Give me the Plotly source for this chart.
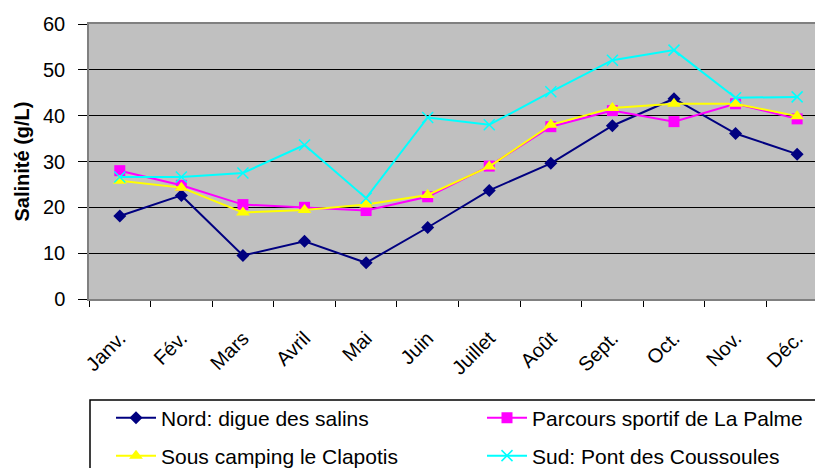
import plotly.graph_objects as go

mois = ["Janv.", "Fév.", "Mars", "Avril", "Mai", "Juin", "Juillet", "Août", "Sept.", "Oct.", "Nov.", "Déc."]
nord = [18.1, 22.6, 9.5, 12.6, 7.9, 15.6, 23.7, 29.6, 37.8, 43.7, 36.1, 31.6]
parcours = [28.0, 24.8, 20.6, 20.0, 19.3, 22.3, 29.0, 37.6, 41.1, 38.7, 42.6, 39.3]
camping = [25.8, 24.3, 18.9, 19.4, 20.6, 22.7, 28.9, 38.0, 41.7, 42.6, 42.6, 39.9]
sud = [26.6, 26.6, 27.5, 33.6, 22.0, 39.6, 38.0, 45.2, 52.1, 54.3, 43.9, 44.1]
noms = ["Nord: digue des salins", "Parcours sportif de La Palme",
        "Sous camping le Clapotis", "Sud: Pont des Coussoules"]

FONT = "Liberation Sans, Arial, sans-serif"
W = 742.0   # plot width in px
H = 275.0   # plot height in px

fig = go.Figure()
fig.add_trace(go.Scatter(x=mois, y=nord, name=noms[0], mode="lines+markers",
                         line=dict(color="#000080", width=2),
                         marker=dict(symbol="diamond", size=10, color="#000080"),
                         legend="legend"))
fig.add_trace(go.Scatter(x=mois, y=parcours, name=noms[1], mode="lines+markers",
                         line=dict(color="#FF00FF", width=2),
                         marker=dict(symbol="square", size=11, color="#FF00FF"),
                         legend="legend2"))
fig.add_trace(go.Scatter(x=mois, y=camping, name=noms[2], mode="lines+markers",
                         line=dict(color="#FFFF00", width=2),
                         marker=dict(symbol="triangle-up", size=12, color="#FFFF00"),
                         legend="legend3"))
fig.add_trace(go.Scatter(x=mois, y=sud, name=noms[3], mode="lines+markers",
                         line=dict(color="#00FFFF", width=2),
                         marker=dict(symbol="x-thin", size=11, line=dict(color="#00FFFF", width=1.5)),
                         legend="legend4"))

def leg(xpx, ypx):
    return dict(orientation="h", xanchor="left", yanchor="middle",
                x=(xpx - 89) / W, y=(299 - ypx) / H,
                font=dict(family=FONT, size=21, color="black"),
                bgcolor="rgba(0,0,0,0)", borderwidth=0, itemwidth=40)

fig.update_layout(
    width=823, height=468,
    margin=dict(l=81, r=0, t=16, b=177, autoexpand=False),
    paper_bgcolor="white", plot_bgcolor="#C0C0C0",
    showlegend=True,
    legend=leg(111, 418),
    legend2=leg(482, 418),
    legend3=leg(111, 456),
    legend4=leg(482, 456),
    xaxis=dict(range=[-0.5, 11.55], tickangle=-45, tickson="boundaries",
               ticks="outside", ticklen=6, tickcolor="black",
               showline=True, linecolor="#808080", linewidth=1.5, mirror=True,
               showgrid=False, ticklabelstandoff=18,
               tickfont=dict(family=FONT, size=20, color="black")),
    yaxis=dict(range=[0, 60], dtick=10, ticks="outside", ticklen=9, tickcolor="black",
               showline=True, linecolor="#808080", linewidth=1.5, mirror=True,
               gridcolor="black", gridwidth=1, zeroline=False,
               ticklabelstandoff=9,
               tickfont=dict(family=FONT, size=20, color="black")),
    annotations=[dict(text="<b>Salinité (g/L)</b>", xref="paper", yref="paper",
                      x=(21 - 89) / W, y=0.5, xanchor="center", yanchor="middle",
                      textangle=-90, showarrow=False,
                      font=dict(family=FONT, size=20, color="black"))],
    shapes=[dict(type="rect", xref="paper", yref="paper",
                 x0=1 / W, x1=1.2, y0=(299 - 400) / H, y1=-1.0,
                 line=dict(color="black", width=1.5), fillcolor="rgba(0,0,0,0)")],
)
fig.write_html("out.html")
